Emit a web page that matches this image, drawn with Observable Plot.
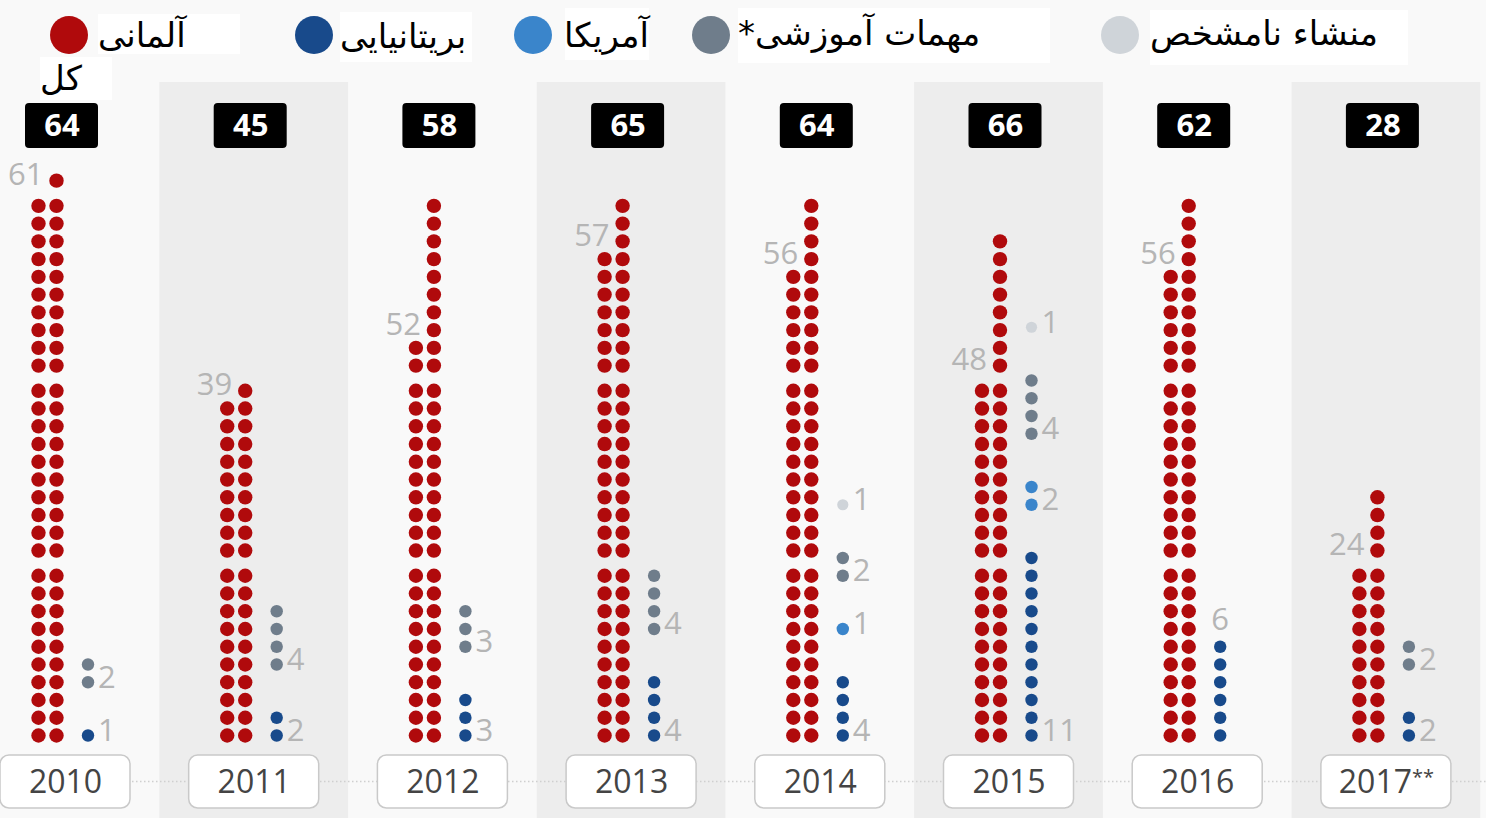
<!DOCTYPE html>
<html>
<head>
<meta charset="utf-8">
<script src="https://cdn.jsdelivr.net/npm/d3@7"></script>
<script src="https://cdn.jsdelivr.net/npm/@observablehq/plot@0.6"></script>
<style>
  html, body { margin: 0; padding: 0; background: #f9f9f9; }
  body { width: 1486px; height: 818px; overflow: hidden; position: relative; font-family: "Open Sans", sans-serif; }
  #legend { position: relative; height: 82px; width: 1486px; }
  .sw { position: absolute; width: 38px; height: 38px; border-radius: 50%; }
  .lt { position: absolute; background: #fff; direction: rtl; text-align: left; color: #000;
        font-family: "DejaVu Sans", sans-serif; font-size: 34px; line-height: 1; white-space: nowrap; z-index: 5; }
  .lt span { display: inline-block; }
  #chart { position: relative; }
</style>
</head>
<body>
<div id="legend"></div>
<div id="chart"></div>
<script>
// ---------- data ----------
const years    = ["2010", "2011", "2012", "2013", "2014", "2015", "2016", "2017**"];
const totals   = [64, 45, 58, 65, 64, 66, 62, 28];
const german   = [61, 39, 52, 57, 56, 48, 56, 24];
const british  = [1, 2, 3, 4, 4, 11, 6, 2];
const american = [0, 0, 0, 0, 1, 2, 0, 0];
const training = [2, 4, 3, 4, 2, 4, 0, 2];
const unknown  = [0, 0, 0, 0, 1, 1, 0, 0];

const categories   = ["آلمانی", "بریتانیایی", "آمریکا", "مهمات آموزشی*", "منشاء نامشخص"];
const totalLabel   = "کل";
const catColors    = ["#b00a0c", "#184a8b", "#3a85cb", "#6f7d8b", "#cfd4d9"];
const labelAboveFor = ["2016"];   // years whose British count label sits above the stack

// ---------- legend (HTML) ----------
const legend = document.getElementById("legend");
const swX = [69, 314, 533, 711, 1120];
const boxes = [
  {l: 98, t: 14, w: 142, h: 40, p: 4},
  {l: 340, t: 12, w: 132, h: 50, p: 7},
  {l: 565, t: 8, w: 84, h: 52, p: 10},
  {l: 738, t: 8, w: 312, h: 55, p: 8},
  {l: 1150, t: 10, w: 258, h: 55, p: 6}
];
categories.forEach((c, i) => {
  const s = document.createElement("div");
  s.className = "sw";
  s.style.left = (swX[i] - 19) + "px";
  s.style.top = (35 - 19) + "px";
  s.style.background = catColors[i];
  legend.appendChild(s);
  const t = document.createElement("div");
  t.className = "lt";
  const b = boxes[i];
  Object.assign(t.style, {left: b.l + "px", top: b.t + "px", width: b.w + "px", height: b.h + "px",
                          paddingTop: b.p + "px", boxSizing: "border-box", overflow: "visible"});
  t.innerHTML = "<span>" + c + "</span>";
  legend.appendChild(t);
});
{
  const t = document.createElement("div");
  t.className = "lt";
  Object.assign(t.style, {left: "40px", top: "57px", width: "72px", height: "43px", paddingTop: "4px",
                          boxSizing: "border-box", overflow: "visible"});
  t.innerHTML = "<span>" + totalLabel + "</span>";
  legend.appendChild(t);
}

// ---------- layout helpers ----------
const W = 188.7;             // px per year panel
const px = v => v / W;       // px -> x units
const GAP = 0.42;            // extra gap between groups of 10 rows (in slot units)
const offL = px(-27), offR = px(-9), offS = px(22.5), offBox = px(-3.5);

// German dots
const germanDots = [];
const germanLabels = [];
german.forEach((n, i) => {
  for (let k = 0; k < n; k++) {
    const g = Math.floor(k / 20), j = k % 20;
    const right = j < 10;
    const row = right ? j : j - 10;
    germanDots.push({x: i + (right ? offR : offL), y: g * 10 + row + g * GAP});
  }
  const g = Math.floor(n / 20), r = n % 20;
  const first = r > 10 ? r - 10 : 0;
  germanLabels.push({x: i + offR, y: g * 10 + first + g * GAP + 0.3, text: String(n)});
});

// side stack: british, american, training, unknown
const sideDots = [];
const sideLabels = [];
years.forEach((yr, i) => {
  const counts = [british[i], american[i], training[i], unknown[i]];
  let slot = 0, started = false;
  counts.forEach((c, ci) => {
    if (!c) return;
    if (started) slot += 2;
    started = true;
    const base = slot;
    for (let k = 0; k < c; k++) sideDots.push({x: i + offS, y: slot++, cat: ci + 1});
    if (ci === 0 && labelAboveFor.includes(yr)) {
      sideLabels.push({x: i + offS, y: slot + 0.5, text: String(c), anchor: "middle"});
    } else {
      sideLabels.push({x: i + offS, y: base + 0.25, text: String(c), anchor: "start"});
    }
  });
});

const idx = years.map((_, i) => i);
const shaded = idx.filter(i => i % 2 === 1);

// y slot constants for boxes (slot units, 1 slot = 17.75px)
const S = 17.75;
const ySlot = pageY => (735 - pageY) / S;

const chart = Plot.plot({
  width: 1486,
  height: 736,
  margin: 0,
  x: {domain: [px(-65), px(1486 - 65)], axis: null},
  y: {domain: [0, 1], range: [653, 653 - S], axis: null},
  style: {background: "transparent", fontFamily: "Open Sans, sans-serif", overflow: "visible"},
  marks: [
    Plot.rect(shaded, {x1: i => i - 0.5, x2: i => i + 0.5, fill: "#ededed"}),
    Plot.ruleY([ySlot(781)], {stroke: "#cfcfcf", strokeWidth: 1.5, strokeDasharray: "1.5,2.5"}),
    Plot.rect(idx, {x1: i => i - px(65), x2: i => i + px(65), y1: ySlot(755), y2: ySlot(808),
                    fill: "white", stroke: "#c9c9c9", strokeWidth: 1.5, rx: 9}),
    Plot.text(idx, {x: i => i, y: ySlot(782), text: i => years[i], fill: "#444", fontSize: 32}),
    Plot.rect(idx, {x1: i => i + offBox - px(36.5), x2: i => i + offBox + px(36.5), y1: ySlot(103), y2: ySlot(148),
                    fill: "#000", rx: 4}),
    Plot.text(idx, {x: i => i + offBox, y: ySlot(126), text: i => String(totals[i]), fill: "#fff",
                    fontSize: 31, fontWeight: "bold"}),
    Plot.dot(germanDots, {x: "x", y: "y", r: 7.2, fill: catColors[0]}),
    Plot.dot(sideDots.filter(d => d.cat !== 4), {x: "x", y: "y", r: 6.2, fill: d => catColors[d.cat]}),
    Plot.dot(sideDots.filter(d => d.cat === 4), {x: "x", y: "y", r: 5.6, fill: catColors[4]}),
    Plot.text(germanLabels, {x: "x", y: "y", text: "text", textAnchor: "end", dx: -13,
                             fill: "#b5b5b5", fontSize: 31}),
    Plot.text(sideLabels.filter(d => d.anchor === "start"), {x: "x", y: "y", text: "text", textAnchor: "start", dx: 10,
                             fill: "#b5b5b5", fontSize: 31}),
    Plot.text(sideLabels.filter(d => d.anchor === "middle"), {x: "x", y: "y", text: "text", textAnchor: "middle",
                             fill: "#b5b5b5", fontSize: 31})
  ]
});
// Render trailing asterisks of year labels as small raised marks
d3.select(chart).selectAll("text").each(function () {
  const el = d3.select(this);
  const t = el.text();
  const m = t.match(/^(\d{4})(\*+)$/);
  if (m) {
    el.text(null);
    el.append("tspan").text(m[1]);
    el.append("tspan").attr("font-size", 20).attr("dy", "-0.45em").text(m[2]);
  }
});
document.getElementById("chart").appendChild(chart);
</script>
</body>
</html>
